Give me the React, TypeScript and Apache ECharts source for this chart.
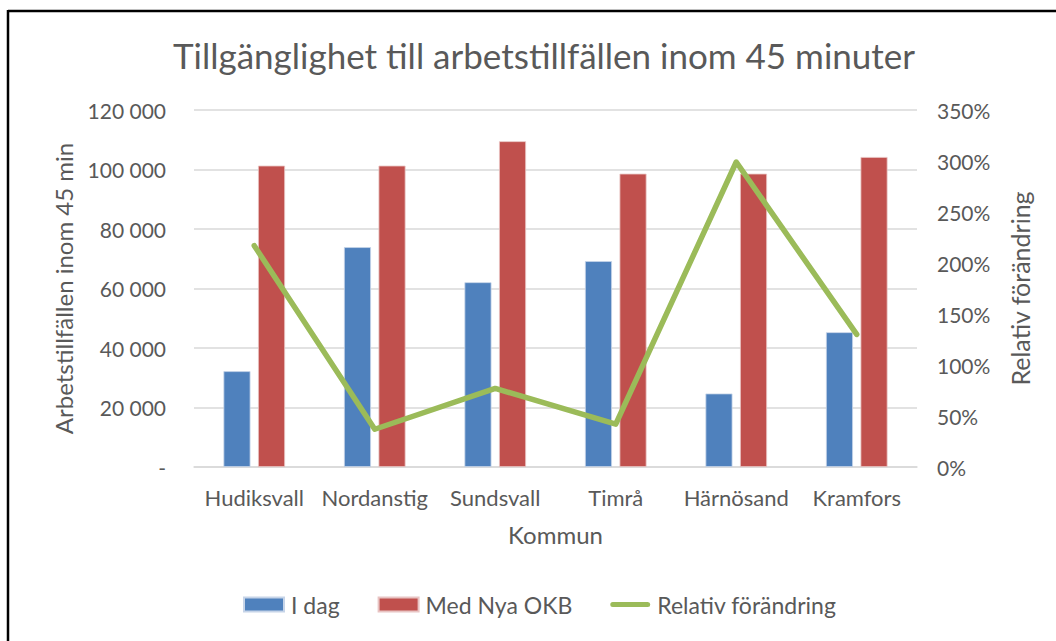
import React, { useEffect, useRef } from "react";
import * as echarts from "echarts";

const categories = ["Hudiksvall", "Nordanstig", "Sundsvall", "Timrå", "Härnösand", "Kramfors"];
const iDag = [32200, 73900, 62100, 69200, 24700, 45300];
const medNyaOKB = [101300, 101300, 109500, 98600, 98600, 104200];
const relativForandring = [217, 37, 77, 42, 299, 130];

const titleText = "Tillgänglighet till arbetstillfällen inom 45 minuter";
const leftAxisName = "Arbetstillfällen inom 45 min";
const rightAxisName = "Relativ förändring";
const xAxisName = "Kommun";
const seriesNames = ["I dag", "Med Nya OKB", "Relativ förändring"];

const FONT = "Lato, 'Open Sans', sans-serif";
const TXT = "#595959";

function fmtThousands(v: number): string {
  if (v === 0) return "-";
  return String(v).replace(/\B(?=(\d{3})+(?!\d))/g, " ");
}

const lineIcon = "path://M2.5,0 L37.5,0 A2.5,2.5 0 0 1 37.5,5 L2.5,5 A2.5,2.5 0 0 1 2.5,0 Z";

export default function App() {
  const ref = useRef<HTMLDivElement>(null);
  useEffect(() => {
    if (!ref.current) return;
    const chart = echarts.init(ref.current, null, { renderer: "svg" });
    chart.setOption({
      animation: false,
      backgroundColor: "#ffffff",
      textStyle: { fontFamily: FONT, color: TXT },
      title: {
        text: titleText,
        left: 168,
        top: 32,
        textStyle: { fontFamily: FONT, fontSize: 35, fontWeight: "normal", color: TXT },
      },
      graphic: [
        { type: "line", shape: { x1: 8, y1: 11, x2: 1056, y2: 11 }, style: { stroke: "#000", lineWidth: 2.5 } },
        { type: "line", shape: { x1: 8, y1: 10, x2: 8, y2: 641 }, style: { stroke: "#000", lineWidth: 2.5 } },
      ],
      legend: {
        bottom: 20,
        left: 238,
        itemWidth: 40,
        itemHeight: 14,
        itemGap: 38,
        textStyle: { fontFamily: FONT, fontSize: 23, color: TXT, padding: [0, 0, 0, 2] },
        data: [
          { name: seriesNames[0], icon: "rect" },
          { name: seriesNames[1], icon: "rect" },
          { name: seriesNames[2], icon: lineIcon, itemStyle: { color: "#9bbb59" } },
        ],
      },
      grid: { left: 194, right: 139, top: 110, bottom: 174 },
      xAxis: {
        type: "category",
        data: categories,
        name: xAxisName,
        nameLocation: "middle",
        nameGap: 55,
        nameTextStyle: { fontFamily: FONT, fontSize: 24, color: TXT },
        axisLine: { lineStyle: { color: "#d9d9d9", width: 1.5 } },
        axisTick: { show: false },
        axisLabel: { fontFamily: FONT, fontSize: 22, color: TXT, margin: 19, interval: 0 },
      },
      yAxis: [
        {
          type: "value",
          min: 0,
          max: 120000,
          interval: 20000,
          name: leftAxisName,
          nameLocation: "middle",
          nameGap: 119,
          nameTextStyle: { fontFamily: FONT, fontSize: 24, color: TXT },
          axisLine: { show: false },
          axisTick: { show: false },
          axisLabel: { fontFamily: FONT, fontSize: 21, color: TXT, margin: 28, formatter: fmtThousands },
          splitLine: { lineStyle: { color: "#d9d9d9", width: 1.5 } },
        },
        {
          type: "value",
          min: 0,
          max: 350,
          interval: 50,
          name: rightAxisName,
          nameLocation: "middle",
          nameGap: 90,
          nameRotate: 90,
          nameTextStyle: { fontFamily: FONT, fontSize: 25, color: TXT },
          axisLine: { show: false },
          axisTick: { show: false },
          axisLabel: { fontFamily: FONT, fontSize: 21, color: TXT, margin: 20, formatter: "{value}%" },
          splitLine: { show: false },
        },
      ],
      series: [
        {
          name: seriesNames[0],
          type: "bar",
          data: iDag,
          barWidth: 27,
          barGap: "28%",
          itemStyle: { color: "#4f81bd", borderColor: "#c6d4e8", borderWidth: 0.8 },
        },
        {
          name: seriesNames[1],
          type: "bar",
          data: medNyaOKB,
          barWidth: 27,
          barGap: "28%",
          itemStyle: { color: "#c0504d", borderColor: "#e8c4c3", borderWidth: 0.8 },
        },
        {
          name: seriesNames[2],
          type: "line",
          yAxisIndex: 1,
          data: relativForandring,
          symbol: "none",
          lineStyle: { color: "#9bbb59", width: 5.5, cap: "round", join: "round" },
          itemStyle: { color: "#9bbb59" },
          z: 5,
        },
      ],
    });
    return () => chart.dispose();
  }, []);
  return (
    <div
      ref={ref}
      style={{ position: "fixed", left: 0, top: 0, width: 1056, height: 641 }}
    />
  );
}
